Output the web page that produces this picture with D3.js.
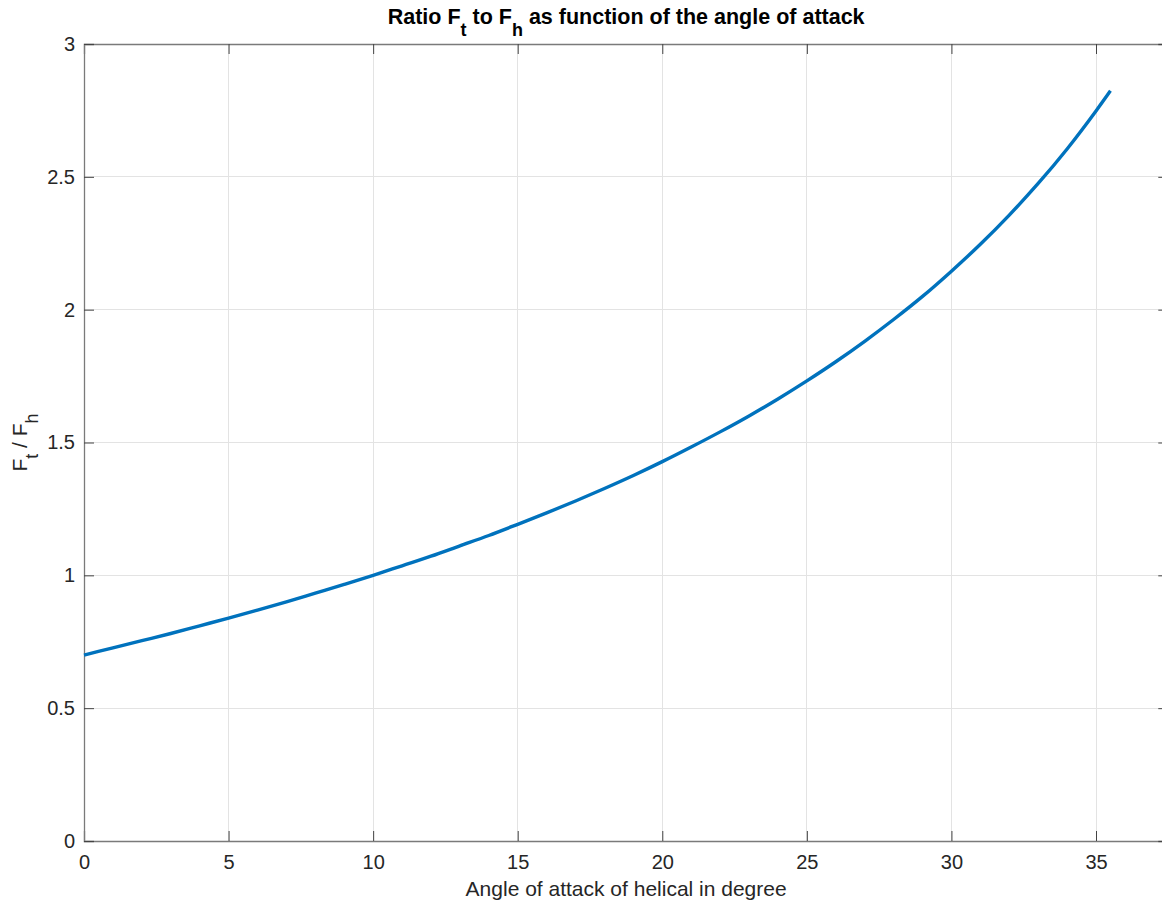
<!DOCTYPE html>
<html>
<head>
<meta charset="utf-8">
<script src="https://cdn.jsdelivr.net/npm/d3@7"></script>
<style>
  html, body { margin: 0; padding: 0; background: #ffffff; overflow: hidden; }
  svg { display: block; font-family: "Liberation Sans", Arial, Helvetica, sans-serif; }
</style>
</head>
<body>
<svg id="chart" width="1162" height="904"></svg>
<script>
// Angle of attack (degrees)
const angles = [0,1,2,3,4,5,6,7,8,9,10,11,12,13,14,15,16,17,18,19,20,21,22,23,24,25,26,27,28,29,30,31,32,33,34,35,35.5];
// Ratio Ft / Fh
const ratios = [0.700,0.727,0.754,0.781,0.810,0.839,0.869,0.900,0.933,0.966,1.000,1.036,1.072,1.111,1.150,1.192,1.235,1.280,1.327,1.376,1.428,1.483,1.540,1.600,1.664,1.732,1.804,1.881,1.963,2.050,2.145,2.246,2.356,2.475,2.605,2.748,2.824];
const xTicks = [0,5,10,15,20,25,30,35];
const yTicks = [0,0.5,1,1.5,2,2.5,3];
const xDomain = [0, 37.5];
const yDomain = [0, 3];

const svg = d3.select("#chart");
const mLeft = 84, mTop = 44, mBottom = 841;
const pxPerUnit = (1096 - 84) / 35;
const mRight = mLeft + (xDomain[1] - xDomain[0]) * pxPerUnit;

const x = d3.scaleLinear().domain(xDomain).range([mLeft, mRight]);
const y = d3.scaleLinear().domain(yDomain).range([mBottom, mTop]);

const axisColor = "#7a7a7a";
const textColor = "#262626";
const gridColor = "#e3e3e3";

// grid
svg.append("g").selectAll("line").data(xTicks.filter(d => d > 0)).join("line")
  .attr("x1", d => x(d)).attr("x2", d => x(d)).attr("y1", mTop).attr("y2", mBottom)
  .attr("stroke", gridColor).attr("stroke-width", 1).attr("shape-rendering", "crispEdges");
svg.append("g").selectAll("line").data(yTicks.filter(d => d > 0 && d < 3)).join("line")
  .attr("x1", mLeft).attr("x2", mRight).attr("y1", d => y(d)).attr("y2", d => y(d))
  .attr("stroke", gridColor).attr("stroke-width", 1).attr("shape-rendering", "crispEdges");

// axes via d3 axis (inward ticks)
const xAxis = d3.axisBottom(x).tickValues(xTicks).tickSize(-10).tickPadding(14).tickFormat(d3.format("d"));
const gx = svg.append("g").attr("transform", `translate(0,${mBottom})`).call(xAxis);
const xTopAxis = d3.axisTop(x).tickValues(xTicks).tickSize(-10).tickFormat("");
const gxt = svg.append("g").attr("transform", `translate(0,${mTop})`).call(xTopAxis);
const yAxis = d3.axisLeft(y).tickValues(yTicks).tickSize(-10).tickPadding(9).tickFormat(d => d3.format("")(d));
const gy = svg.append("g").attr("transform", `translate(${mLeft},0)`).call(yAxis);
const yRightAxis = d3.axisRight(y).tickValues(yTicks).tickSize(-10).tickFormat("");
const gyr = svg.append("g").attr("transform", `translate(${mRight},0)`).call(yRightAxis);

[gx, gxt, gy, gyr].forEach(g => {
  g.select(".domain").attr("stroke", axisColor).attr("stroke-width", 1.3);
  g.selectAll(".tick line").attr("stroke", "#444").attr("stroke-width", 1);
  g.selectAll(".tick text").attr("fill", textColor).attr("font-size", 20)
    .attr("font-family", "'Liberation Sans', Arial, sans-serif");
});

// curve
const line = d3.line().x((d, i) => x(angles[i])).y(d => y(d)).curve(d3.curveMonotoneX);
svg.append("path").datum(ratios).attr("d", line)
  .attr("fill", "none").attr("stroke", "#0072BD").attr("stroke-width", 3.4)
  .attr("stroke-linejoin", "round");

// title with subscripts
const title = svg.append("text").attr("x", (mLeft + mRight) / 2).attr("y", 24)
  .attr("text-anchor", "middle").attr("font-size", 21.5).attr("font-weight", "bold").attr("fill", "#000");
title.append("tspan").text("Ratio F");
title.append("tspan").attr("dy", 12).attr("font-size", 18).text("t");
title.append("tspan").attr("dy", -12).text(" to F");
title.append("tspan").attr("dy", 12).attr("font-size", 18).text("h");
title.append("tspan").attr("dy", -12).text(" as function of the angle of attack");

// x label
svg.append("text").attr("x", (mLeft + mRight) / 2).attr("y", 896)
  .attr("text-anchor", "middle").attr("font-size", 21).attr("fill", textColor)
  .text("Angle of attack of helical in degree");

// y label
const yl = svg.append("text").attr("transform", `translate(27,${(mTop + mBottom) / 2}) rotate(-90)`)
  .attr("text-anchor", "middle").attr("font-size", 21).attr("fill", textColor);
yl.append("tspan").text("F");
yl.append("tspan").attr("dy", 11).attr("font-size", 18).text("t");
yl.append("tspan").attr("dy", -11).text(" / F");
yl.append("tspan").attr("dy", 11).attr("font-size", 18).text("h");
</script>
</body>
</html>
